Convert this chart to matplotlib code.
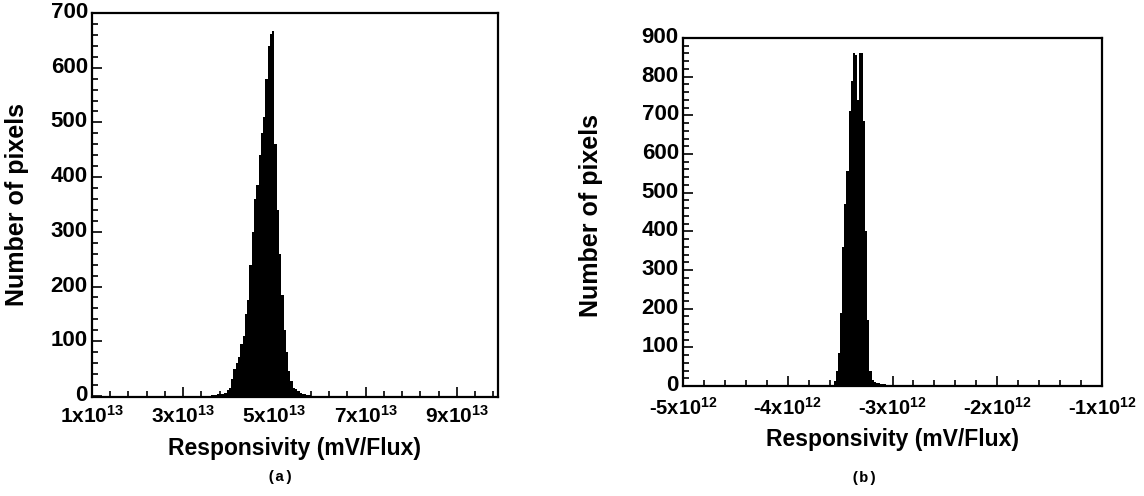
import numpy as np
import matplotlib
matplotlib.use("Agg")
import matplotlib.pyplot as plt
from matplotlib.ticker import AutoMinorLocator, FixedLocator
from matplotlib.transforms import ScaledTranslation

plt.rcParams['font.family'] = ['Liberation Sans', 'DejaVu Sans']
plt.rcParams['mathtext.fontset'] = 'custom'
plt.rcParams['mathtext.rm'] = 'Liberation Sans'
plt.rcParams['mathtext.bf'] = 'Liberation Sans:bold'
plt.rcParams['mathtext.default'] = 'bf'

# --- panel (a): responsivity histogram, bins in units of 1e13 ---
a_bin_start = 3.60
a_bin_width = 0.05
a_counts = [1, 2, 2, 3, 3, 4, 5, 10,
            15, 30, 50, 60, 72, 95, 110, 150, 175, 240,
            300, 360, 385, 440, 480, 510, 580, 640, 662, 668,
            460, 340, 260, 185, 120, 80, 45, 28, 15, 12,
            9, 6, 4, 3, 2, 1]
a_ticks = [1, 3, 5, 7, 9]
a_ticklabels = ['1x10$^{13}$', '3x10$^{13}$', '5x10$^{13}$', '7x10$^{13}$', '9x10$^{13}$']
a_yticks = [0, 100, 200, 300, 400, 500, 600, 700]

# --- panel (b): responsivity histogram, bins in units of 1e12 ---
b_bin_start = -3.62
b_bin_width = 0.02
b_counts = [1, 2, 2, 12, 40, 85, 190, 360, 470, 555, 710, 790,
            860, 855, 740, 862, 860, 685, 400, 170, 40, 15,
            10, 8, 7, 6, 5, 4, 3, 3, 2, 2, 1]
b_ticks = [-5, -4, -3, -2, -1]
b_ticklabels = ['-5x10$^{12}$', '-4x10$^{12}$', '-3x10$^{12}$', '-2x10$^{12}$', '-1x10$^{12}$']
b_yticks = [0, 100, 200, 300, 400, 500, 600, 700, 800, 900]

fig = plt.figure(figsize=(11.44, 4.96), dpi=100)
W, H = 1144, 496


def make_axes(left, top, right, bottom):
    return fig.add_axes([left / W, 1 - bottom / H, (right - left) / W, (bottom - top) / H])


ax1 = make_axes(92, 13, 498, 397)
ax2 = make_axes(683, 38, 1102, 386)

for ax, start, width, counts, scale, ticks, labels, yticks in [
        (ax1, a_bin_start, a_bin_width, a_counts, 1e13, a_ticks, a_ticklabels, a_yticks),
        (ax2, b_bin_start, b_bin_width, b_counts, 1e12, b_ticks, b_ticklabels, b_yticks)]:
    edges = (start + width * np.arange(len(counts) + 1)) * scale
    ax.stairs(counts, edges, fill=True, color='black', linewidth=0)
    ax.xaxis.set_major_locator(FixedLocator([t * scale for t in ticks]))
    ax.set_xticklabels(labels)
    ax.set_yticks(yticks)
    ax.xaxis.set_minor_locator(AutoMinorLocator(5))
    ax.yaxis.set_minor_locator(AutoMinorLocator(5))
    ax.tick_params(which='both', direction='in', top=False, right=False, width=1.2)
    ax.tick_params(axis='y', labelsize=16, pad=3)
    ax.tick_params(axis='x', labelsize=15, pad=6)
    ax.tick_params(which='major', length=7)
    ax.tick_params(which='minor', length=4)
    for lab in ax.get_xticklabels() + ax.get_yticklabels():
        lab.set_fontweight('bold')
    # y tick labels sit a little high in the original
    for lab in ax.get_yticklabels():
        lab.set_transform(lab.get_transform() + ScaledTranslation(0, 3 / 100, fig.dpi_scale_trans))
    for sp in ax.spines.values():
        sp.set_linewidth(1.6)
    ax.set_ylabel('Number of pixels', fontsize=18, fontweight='bold')
    ax.set_xlabel('Responsivity (mV/Flux)', fontsize=16.5, fontweight='bold', labelpad=7)

ax1.set_xlim(1e13, 9.9e13)
ax1.set_ylim(-2, 700)
ax2.set_xlim(-5e12, -1e12)
ax2.set_ylim(0, 900)
ax2.tick_params(axis='x', labelsize=14.5, pad=7.5)
ax1.yaxis.set_label_coords(-0.155, 0.5)
ax2.yaxis.set_label_coords(-0.19, 0.49)

fig.text(280 / W, 1 - 477 / H, '(a)', ha='center', va='center',
         fontsize=11, family=['Liberation Mono', 'DejaVu Sans Mono'], fontweight='bold')
fig.text(864 / W, 1 - 478 / H, '(b)', ha='center', va='center',
         fontsize=11, family=['Liberation Mono', 'DejaVu Sans Mono'], fontweight='bold')

fig.savefig('out.png', dpi=100)
